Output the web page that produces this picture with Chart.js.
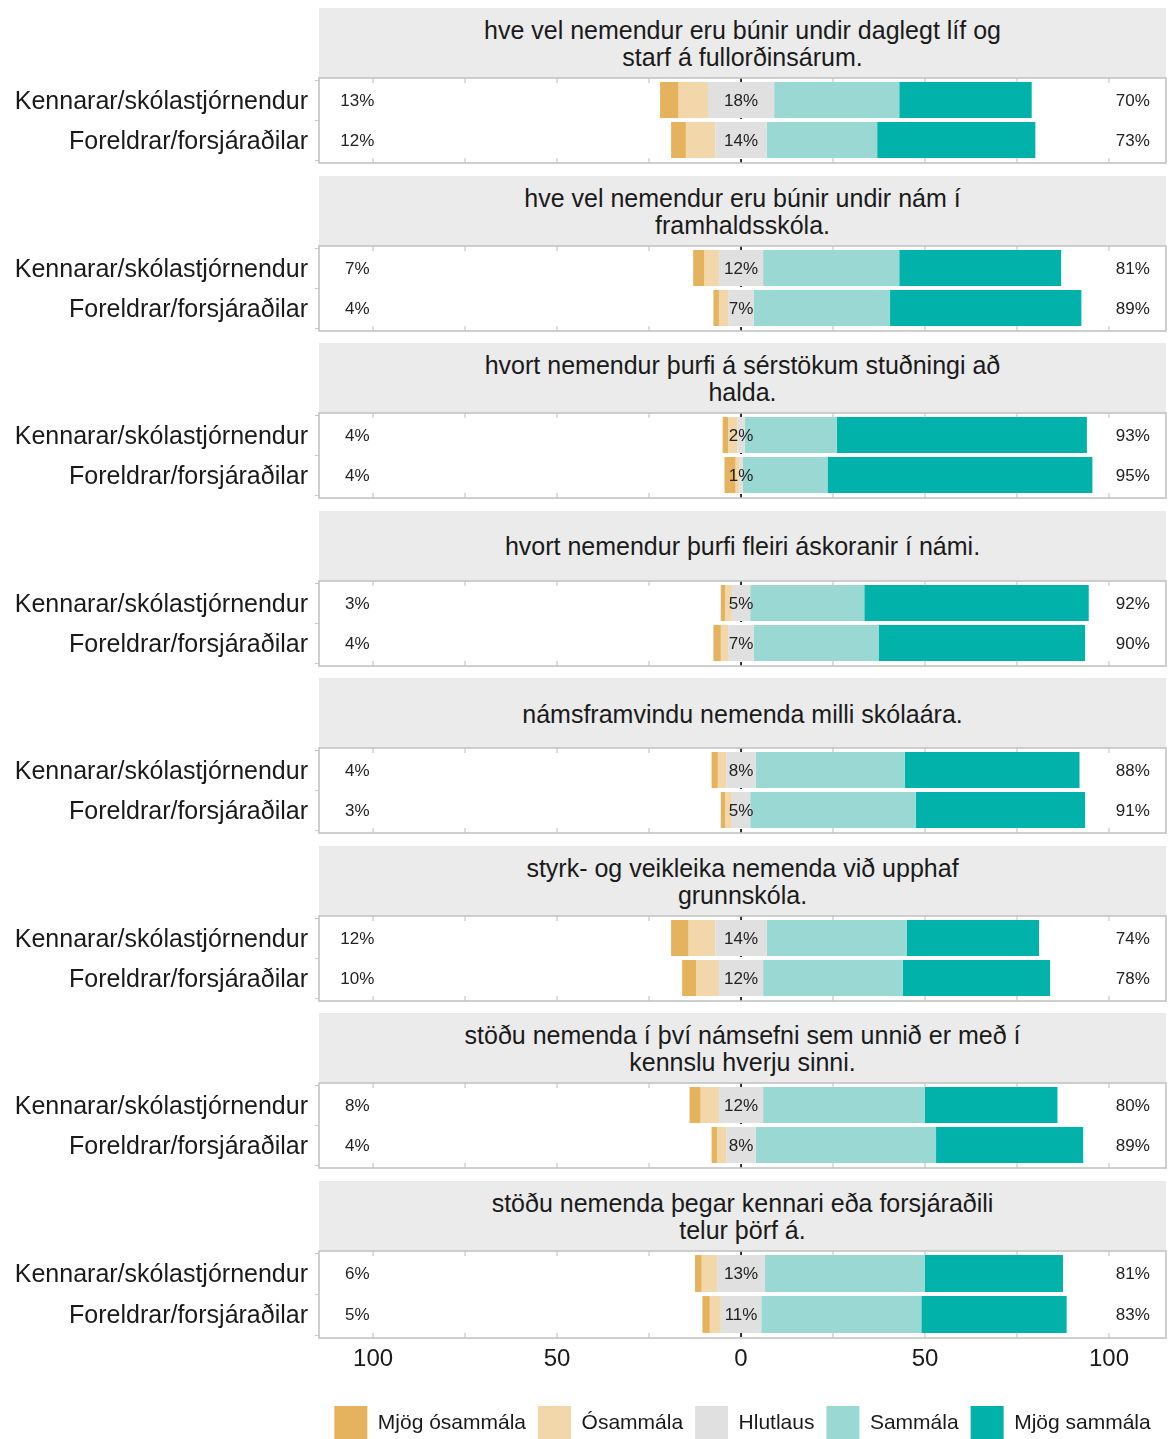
<!DOCTYPE html>
<html lang="is">
<head>
    <meta charset="UTF-8">
    <title>Mat á stöðu nemenda</title>
    <style>
        body, html {
            margin: 0;
            padding: 0;
            background: #ffffff;
            font-family: "Liberation Sans", Arial, sans-serif;
            overflow: hidden;
        }
        #page {
            position: relative;
            width: 1172px;
            height: 1439px;
        }
        .strip {
            position: absolute;
            left: 319px;
            width: 847px;
            height: 70px;
            box-sizing: border-box;
            padding-top: 2px;
            background: #ebebeb;
            display: flex;
            align-items: center;
            justify-content: center;
            text-align: center;
            white-space: pre-line;
            font-size: 25px;
            line-height: 27px;
            color: #1a1a1a;
        }
        .panel {
            position: absolute;
            left: 0;
        }
    </style>
</head>
<body>
    <div id="page"></div>

    <script src="https://cdn.jsdelivr.net/npm/chart.js"></script>
    <script>
        const questions = [
            'hve vel nemendur eru búnir undir daglegt líf og\nstarf á fullorðinsárum.',
            'hve vel nemendur eru búnir undir nám í\nframhaldsskóla.',
            'hvort nemendur þurfi á sérstökum stuðningi að\nhalda.',
            'hvort nemendur þurfi fleiri áskoranir í námi.',
            'námsframvindu nemenda milli skólaára.',
            'styrk- og veikleika nemenda við upphaf\ngrunnskóla.',
            'stöðu nemenda í því námsefni sem unnið er með í\nkennslu hverju sinni.',
            'stöðu nemenda þegar kennari eða forsjáraðili\ntelur þörf á.'
        ];
        const groups = ['Kennarar/skólastjórnendur', 'Foreldrar/forsjáraðilar'];
        const levels = ['Mjög ósammála', 'Ósammála', 'Hlutlaus', 'Sammála', 'Mjög sammála'];
        const levelColors = ['#e5b25d', '#f1d7a9', '#e0e0e0', '#99d8d3', '#00b2a9'];

        // two bars per question: teachers first, then parents
        const mjogOsammala = [5, 4, 3, 1.5, 1.5, 3, 1.2, 2, 1.7, 1.2, 4.7, 3.8, 3, 1.5, 1.8, 2];
        const osammala     = [8, 8, 4, 2.5, 2.5, 1, 1.8, 2, 2.3, 1.8, 7.3, 6.2, 5, 2.5, 4.2, 3];
        const hlutlaus     = [18, 14, 12, 7, 2, 1, 5, 7, 8, 5, 14, 12, 12, 8, 13, 11];
        const sammala      = [34, 30, 37, 37, 25, 23, 31, 34, 40.5, 45, 38, 38, 44, 49, 43.5, 43.5];
        const mjogSammala  = [36, 43, 44, 52, 68, 72, 61, 56, 47.5, 46, 36, 40, 36, 40, 37.5, 39.5];

        // printed percentages
        const lowPct  = [13, 12, 7, 4, 4, 4, 3, 4, 4, 3, 12, 10, 8, 4, 6, 5];
        const midPct  = [18, 14, 12, 7, 2, 1, 5, 7, 8, 5, 14, 12, 12, 8, 13, 11];
        const highPct = [70, 73, 81, 89, 93, 95, 92, 90, 88, 91, 74, 78, 80, 89, 81, 83];

        const xTicks = [-100, -50, 0, 50, 100];
        const gridMarks = [-100, -75, -50, -25, 25, 50, 75, 100];

        const series = [mjogOsammala, osammala, hlutlaus, sammala, mjogSammala];

        // segment [start, end] for each row, neutral split around zero
        const edges = hlutlaus.map((h, r) => {
            let x = -(mjogOsammala[r] + osammala[r] + h / 2);
            return series.map(s => {
                const seg = [x, x + s[r]];
                x += s[r];
                return seg;
            });
        });

        // panel frame sits a little outside the bar area
        const boxOut = { top: 2, bottom: 3 };

        const panelDeco = {
            id: 'panelDeco',
            beforeDatasetsDraw(chart) {
                const { ctx, chartArea: a } = chart;
                const x = chart.scales.x;
                const top = a.top - boxOut.top, bottom = a.bottom + boxOut.bottom;
                ctx.save();
                ctx.strokeStyle = '#c8c8c8';
                ctx.lineWidth = 1.2;
                gridMarks.forEach(v => {
                    const px = x.getPixelForValue(v);
                    ctx.beginPath();
                    ctx.moveTo(px, top); ctx.lineTo(px, top + 5);
                    ctx.moveTo(px, bottom - 5); ctx.lineTo(px, bottom);
                    ctx.stroke();
                });
                const zx = x.getPixelForValue(0);
                ctx.strokeStyle = '#000';
                ctx.lineWidth = 1.6;
                ctx.setLineDash([5, 4]);
                ctx.beginPath();
                ctx.moveTo(zx, top);
                ctx.lineTo(zx, bottom);
                ctx.stroke();
                ctx.restore();
            },
            afterDatasetsDraw(chart, args, opts) {
                const { ctx, chartArea: a } = chart;
                const x = chart.scales.x, y = chart.scales.y;
                const top = a.top - boxOut.top, bottom = a.bottom + boxOut.bottom;
                ctx.save();
                ctx.strokeStyle = '#c4c4c4';
                ctx.lineWidth = 1.6;
                ctx.strokeRect(a.left, top, a.right - a.left, bottom - top);
                ctx.fillStyle = '#222';
                ctx.font = '17px "Liberation Sans", Arial, sans-serif';
                ctx.textAlign = 'center';
                ctx.textBaseline = 'middle';
                [0, 1].forEach(i => {
                    const r = opts.q * 2 + i;
                    const py = y.getPixelForValue(i) + 1;
                    ctx.fillText(lowPct[r] + '%', x.getPixelForValue(-104.3), py);
                    ctx.fillText(midPct[r] + '%', x.getPixelForValue(0), py);
                    ctx.fillText(highPct[r] + '%', x.getPixelForValue(106.5), py);
                });
                ctx.restore();
            }
        };

        const page = document.getElementById('page');
        const step = 167.55;

        questions.forEach((question, q) => {
            const boxTop = 78 + q * step;
            const last = q === questions.length - 1;

            const strip = document.createElement('div');
            strip.className = 'strip';
            strip.style.top = (boxTop - 70) + 'px';
            strip.textContent = question;
            page.appendChild(strip);

            const canvas = document.createElement('canvas');
            canvas.className = 'panel';
            canvas.width = 1172;
            canvas.height = last ? 200 : 87;
            canvas.style.top = (boxTop - 1) + 'px';
            page.appendChild(canvas);

            new Chart(canvas.getContext('2d'), {
                type: 'bar',
                data: {
                    labels: groups,
                    datasets: levels.map((name, li) => ({
                        label: name,
                        data: [q * 2, q * 2 + 1].map(r => edges[r][li]),
                        backgroundColor: levelColors[li],
                        borderWidth: 0,
                        grouped: false,
                        barPercentage: 0.9,
                        categoryPercentage: 1
                    }))
                },
                options: {
                    indexAxis: 'y',
                    responsive: false,
                    animation: false,
                    layout: { padding: { top: 3, bottom: last ? 0 : 4, right: 6, left: 0 } },
                    scales: {
                        x: {
                            display: last,
                            min: -114.7,
                            max: 115.5,
                            afterBuildTicks: s => { s.ticks = xTicks.map(v => ({ value: v })); },
                            afterFit: s => {
                                s.paddingLeft = 0;
                                s.paddingRight = 0;
                                if (last) s.height = 59;
                            },
                            grid: { display: false },
                            border: { display: false },
                            ticks: {
                                padding: 2,
                                color: '#1a1a1a',
                                font: { size: 24, family: '"Liberation Sans", Arial, sans-serif' },
                                callback: v => Math.abs(v)
                            }
                        },
                        y: {
                            type: 'category',
                            afterFit: s => {
                                s.width = 319;
                                s.paddingTop = 0;
                                s.paddingBottom = 0;
                            },
                            grid: { display: true, drawOnChartArea: false, tickLength: 4, color: '#c8c8c8' },
                            border: { display: false },
                            ticks: {
                                padding: 7,
                                labelOffset: 2,
                                color: '#1a1a1a',
                                font: { size: 25, family: '"Liberation Sans", Arial, sans-serif' }
                            }
                        }
                    },
                    plugins: {
                        panelDeco: { q: q },
                        tooltip: { enabled: false },
                        legend: {
                            display: last,
                            position: 'bottom',
                            fullSize: false,
                            labels: {
                                boxWidth: 33,
                                boxHeight: 34,
                                padding: 12,
                                color: '#1a1a1a',
                                font: { size: 21, family: '"Liberation Sans", Arial, sans-serif' }
                            }
                        }
                    }
                },
                plugins: [panelDeco]
            });
        });
    </script>
</body>
</html>
